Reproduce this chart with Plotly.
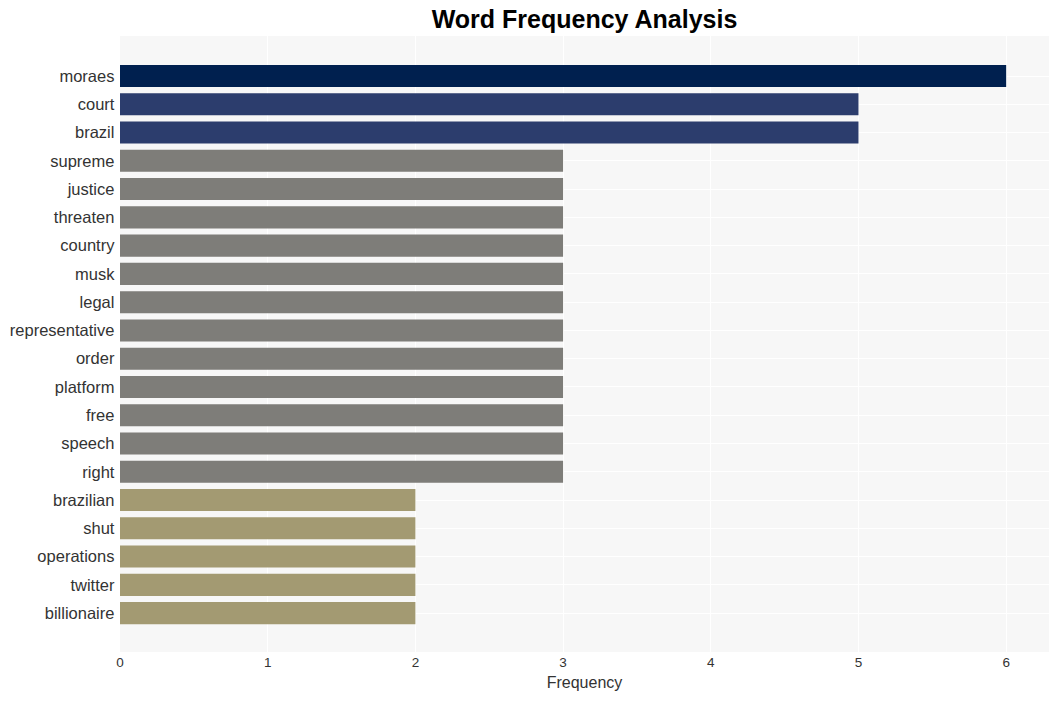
import plotly.graph_objects as go

words = ["moraes", "court", "brazil", "supreme", "justice", "threaten", "country",
         "musk", "legal", "representative", "order", "platform", "free", "speech",
         "right", "brazilian", "shut", "operations", "twitter", "billionaire"]
freqs = [6, 5, 5, 3, 3, 3, 3, 3, 3, 3, 3, 3, 3, 3, 3, 2, 2, 2, 2, 2]

def color_for(v):
    if v >= 6:
        return "#00204f"
    if v >= 5:
        return "#2c3d6d"
    if v >= 3:
        return "#7e7d79"
    return "#a39a72"

colors = [color_for(v) for v in freqs]

fig = go.Figure(go.Bar(
    x=freqs, y=words, orientation="h",
    marker=dict(color=colors, line=dict(width=0)),
))

fig.update_layout(
    width=1060, height=701,
    margin=dict(l=120, r=11, t=36, b=49),
    paper_bgcolor="white",
    plot_bgcolor="#f7f7f7",
    bargap=0.22,
    title=dict(text="<b>Word Frequency Analysis</b>", x=0.5, xref="paper",
               y=0.972, yref="container", yanchor="middle",
               font=dict(family="Liberation Sans, Arial", size=25, color="black")),
    font=dict(family="Liberation Sans, Arial", color="#333"),
    showlegend=False,
)
fig.update_xaxes(range=[0, 6.29], dtick=1, gridcolor="white", gridwidth=1,
                 zeroline=False, tickfont=dict(size=13.5, color="#333"),
                 title=dict(text="Frequency", font=dict(size=16, color="#333"), standoff=8))
fig.update_yaxes(categoryorder="array", categoryarray=words, range=[20.375, -1.415],
                 gridcolor="white", tickfont=dict(size=16.5, color="#333"), ticksuffix=" ")

fig.write_html("out.html")
